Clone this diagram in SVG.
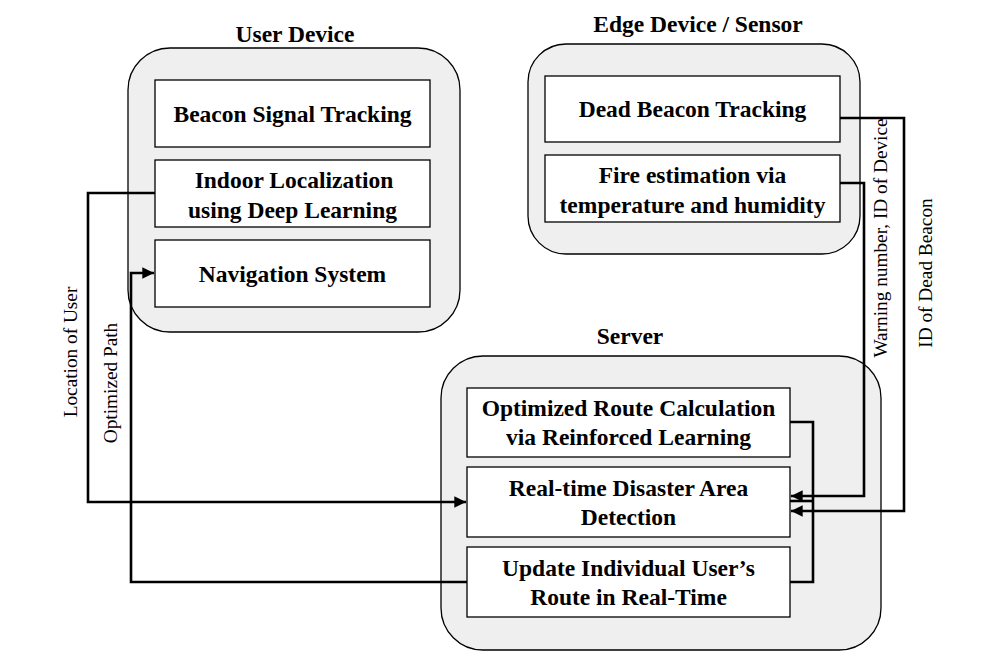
<svg xmlns="http://www.w3.org/2000/svg" width="999" height="665" viewBox="0 0 999 665">
<defs>
<marker id="arr" viewBox="0 0 10 10" refX="10" refY="5" markerWidth="4.5" markerHeight="4.5" orient="auto" markerUnits="strokeWidth">
<path d="M0,0 L10,5 L0,10 z" fill="#000"/>
</marker>
</defs>
<style>
.cont{fill:#efefef;stroke:#000;stroke-width:1.3}
.box{fill:#fff;stroke:#000;stroke-width:1.3}
.t{font-family:"Liberation Serif",serif;font-weight:bold;font-size:23.5px;text-anchor:middle;fill:#000}
.title{font-family:"Liberation Serif",serif;font-weight:bold;font-size:23.5px;text-anchor:middle;fill:#000}
.lbl{font-family:"Liberation Serif",serif;font-size:19.3px;text-anchor:middle;fill:#000}
.c{fill:none;stroke:#000;stroke-width:2.6}
</style>
<rect width="999" height="665" fill="#fff"/>
<g id="user-device">
<rect class="cont" x="128" y="48" width="332" height="284" rx="42"/>
<text class="title" x="295" y="42">User Device</text>
</g>
<g id="beacon-signal-tracking">
<rect class="box" x="155" y="80" width="275" height="67"/>
<text class="t" x="292.5" y="122">Beacon Signal Tracking</text>
</g>
<g id="indoor-localization">
<rect class="box" x="155" y="160" width="275" height="67"/>
<text class="t" x="294" y="188">Indoor Localization</text>
<text class="t" x="292.5" y="218">using Deep Learning</text>
</g>
<g id="navigation-system">
<rect class="box" x="155" y="240" width="275" height="67"/>
<text class="t" x="292.5" y="282">Navigation System</text>
</g>
<g id="edge-device">
<rect class="cont" x="528" y="44" width="332" height="210" rx="38"/>
<text class="title" x="698" y="32">Edge Device / Sensor</text>
</g>
<g id="dead-beacon-tracking">
<rect class="box" x="545" y="76" width="295" height="66"/>
<text class="t" x="692.5" y="117">Dead Beacon Tracking</text>
</g>
<g id="fire-estimation">
<rect class="box" x="545" y="155" width="295" height="67"/>
<text class="t" x="692.5" y="183">Fire estimation via</text>
<text class="t" x="692.5" y="213">temperature and humidity</text>
</g>
<g id="server">
<rect class="cont" x="441" y="356" width="440" height="294" rx="42"/>
<text class="title" x="630" y="344">Server</text>
</g>
<g id="optimized-route">
<rect class="box" x="467" y="388" width="323" height="69"/>
<text class="t" x="628.5" y="416">Optimized Route Calculation</text>
<text class="t" x="628.5" y="445">via Reinforced Learning</text>
</g>
<g id="disaster-detection">
<rect class="box" x="467" y="467" width="323" height="70"/>
<text class="t" x="628.5" y="496">Real-time Disaster Area</text>
<text class="t" x="628.5" y="525">Detection</text>
</g>
<g id="update-route">
<rect class="box" x="467" y="547" width="323" height="70"/>
<text class="t" x="628.5" y="576">Update Individual User’s</text>
<text class="t" x="628.5" y="605">Route in Real-Time</text>
</g>
<g id="connectors">
<path class="c" d="M155,193 H88 V502 H466" marker-end="url(#arr)"/>
<path class="c" d="M467,582 H131 V273 H154" marker-end="url(#arr)"/>
<path class="c" d="M790,422 H813 V582 H790"/>
<path class="c" d="M790,501 H814"/>
<path class="c" d="M840,183 H864 V496 H791" marker-end="url(#arr)"/>
<path class="c" d="M840,118 H904 V511 H791" marker-end="url(#arr)"/>
<text class="lbl" transform="translate(77,352) rotate(-90)">Location of User</text>
<text class="lbl" transform="translate(117,383) rotate(-90)">Optimized Path</text>
<text class="lbl" transform="translate(887,238) rotate(-90)">Warning number, ID of Device</text>
<text class="lbl" transform="translate(932,273) rotate(-90)">ID of Dead Beacon</text>
</g>
</svg>
